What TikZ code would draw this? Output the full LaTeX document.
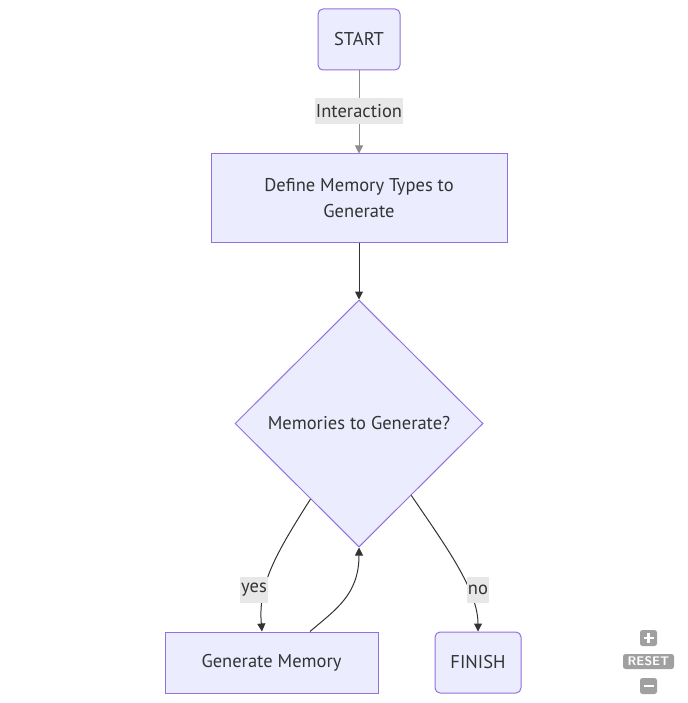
\documentclass[tikz,border=0pt]{standalone}
\usepackage{fontspec}
\setmainfont{PT Sans}
\usetikzlibrary{shapes.geometric,arrows.meta,calc}
\definecolor{nodefill}{HTML}{ECECFF}
\definecolor{nodeline}{HTML}{9370DB}
\definecolor{txt}{HTML}{333333}
\definecolor{lblbg}{HTML}{E8E8E8}
\definecolor{ctrl}{HTML}{A0A0A0}
\begin{document}
\begin{tikzpicture}[x=1pt,y=-1pt,
  every node/.style={text=txt,font=\fontsize{18.5pt}{26pt}\selectfont},
  box/.style={draw=nodeline,fill=nodefill,line width=1pt,inner sep=0pt},
  rbox/.style={box,rounded corners=5pt},
  dia/.style={box,diamond,minimum width=248pt,minimum height=247pt},
  edge/.style={draw=txt,line width=1pt,-{Triangle[length=8pt,width=8pt]}},
  lbl/.style={fill=lblbg,inner sep=1pt,minimum height=26pt},
  ctl/.style={fill=ctrl,rounded corners=2.5pt,inner sep=0pt}]
\useasboundingbox (0,0) rectangle (687,703);
\node[rbox,minimum width=82pt,minimum height=61pt] (start) at (359,39.5) {START};
\node[box,minimum width=296pt,minimum height=88pt,align=center] (def) at (359,198) {Define Memory Types to\\Generate};
\node[dia] (dec) at (359,423.5) {Memories to Generate?};
\node[box,minimum width=213pt,minimum height=61pt] (gen) at (271.5,662.5) {Generate Memory};
\node[rbox,minimum width=86pt,minimum height=61pt] (fin) at (478,662.5) {FINISH};
\coordinate (yesS) at ($(dec.west)!0.61!(dec.south)$);
\coordinate (noS) at ($(dec.east)!0.58!(dec.south)$);
\coordinate (genT) at ($(gen.north)+(38.5,0)$);
\coordinate (genY) at ($(gen.north)+(-9.5,0)$);
\path[edge,draw=gray!90] (start) -- (def);
\path[edge] (def) -- (dec.north);
\path[edge] (yesS) .. controls (275,555) and (258,585) .. (genY);
\path[edge] (genT) .. controls (335,610) and (359,595) .. (dec.south);
\path[edge] (noS) .. controls (445,545) and (478,590) .. (fin.north);
\node[lbl] (l1) at (359,111) {Interaction};
\node[lbl] (l2) at (254,590) {yes};
\node[lbl] (l3) at (478,590) {no};
\node[ctl,minimum width=17pt,minimum height=16pt] (plus) at (648.5,638) {};
\draw[white,line width=2.5pt] ($(plus.center)+(-5,0)$) -- ($(plus.center)+(5,0)$) ($(plus.center)+(0,-5)$) -- ($(plus.center)+(0,5)$);
\node[ctl,minimum width=51pt,minimum height=15pt,text=white,font=\sffamily\bfseries\fontsize{12.5pt}{12pt}\selectfont] (reset) at (648.5,661.5) {RESET};
\node[ctl,minimum width=17pt,minimum height=16pt] (minus) at (648.5,686) {};
\draw[white,line width=2.5pt] ($(minus.center)+(-5,0)$) -- ($(minus.center)+(5,0)$);
\end{tikzpicture}
\end{document}
